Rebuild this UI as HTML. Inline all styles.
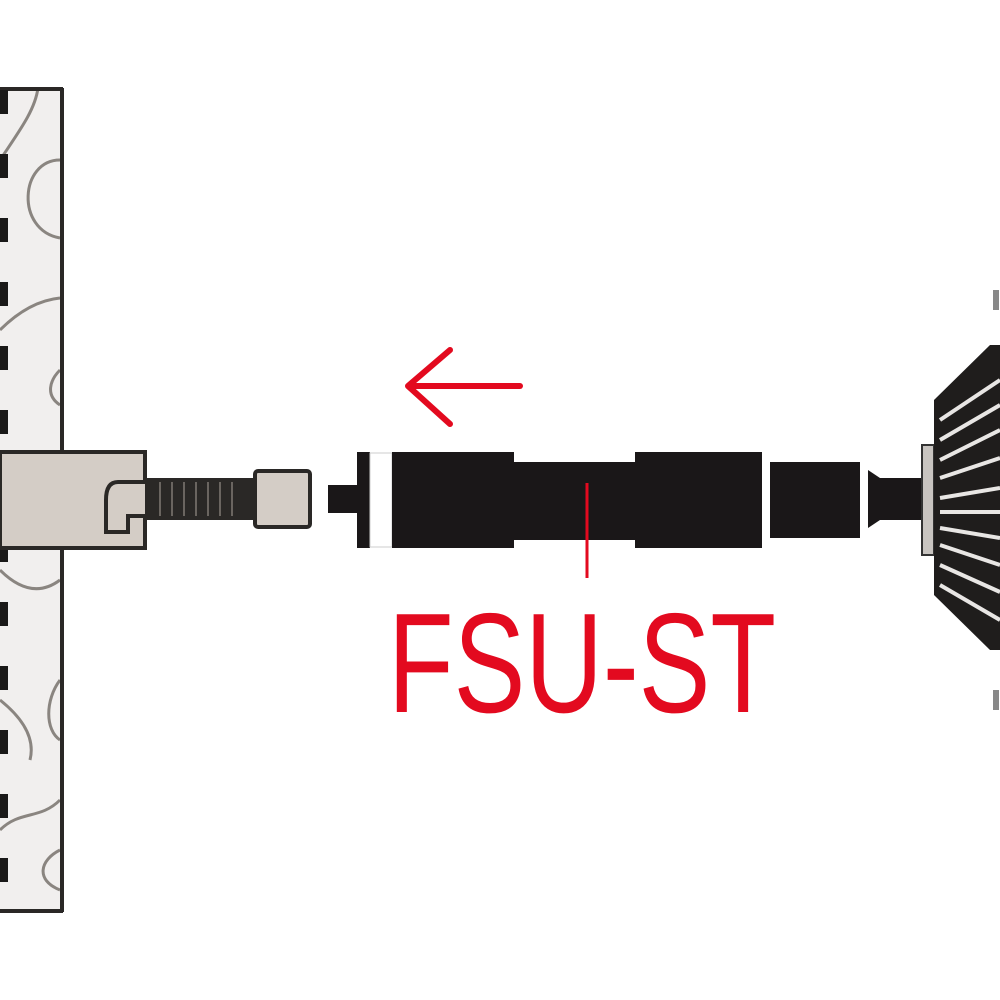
<!DOCTYPE html>
<html><head><meta charset="utf-8"><style>html,body{margin:0;padding:0;background:#fff}svg{display:block}</style></head>
<body>
<svg width="1000" height="1000" viewBox="0 0 1000 1000" xmlns="http://www.w3.org/2000/svg">
<!-- wall -->
<rect x="0" y="88" width="63" height="824" fill="#f1efee"/>
<g fill="none" stroke="#8a8580" stroke-width="3">
<path d="M0 160 C20 130 35 110 38 88"/>
<path d="M60 160 C20 160 15 230 60 238"/>
<path d="M0 330 C20 310 40 300 60 298"/>
<path d="M60 370 C50 380 45 395 60 405"/>
<path d="M0 570 C20 590 40 595 60 580"/>
<path d="M0 700 C25 720 35 740 30 760"/>
<path d="M60 680 C45 700 45 730 60 740"/>
<path d="M0 830 C20 810 40 820 60 800"/>
<path d="M60 850 C40 860 35 880 60 890"/>
</g>
<line x1="0" y1="89" x2="63" y2="89" stroke="#2a2826" stroke-width="4"/>
<line x1="0" y1="911" x2="63" y2="911" stroke="#2a2826" stroke-width="4"/>
<line x1="62" y1="88" x2="62" y2="912" stroke="#2a2826" stroke-width="4"/>
<line x1="4" y1="90" x2="4" y2="912" stroke="#1a1918" stroke-width="8" stroke-dasharray="24 40"/>
<!-- anchor -->
<path d="M0 452 H145 V548 H0 Z" fill="#d4cdc6" stroke="#2a2826" stroke-width="4"/>
<path d="M145 482 H118 Q106 482 106 500 V532 H128 V516 H145" fill="#d4cdc6" stroke="#2a2826" stroke-width="4"/>
<rect x="145" y="478" width="110" height="42" fill="#2a2826"/>
<g stroke="#6a6560" stroke-width="2">
<line x1="160" y1="482" x2="160" y2="516"/><line x1="172" y1="482" x2="172" y2="516"/><line x1="184" y1="482" x2="184" y2="516"/><line x1="196" y1="482" x2="196" y2="516"/><line x1="208" y1="482" x2="208" y2="516"/><line x1="220" y1="482" x2="220" y2="516"/><line x1="232" y1="482" x2="232" y2="516"/>
</g>
<rect x="255" y="471" width="55" height="56" rx="3" fill="#d4cdc6" stroke="#2a2826" stroke-width="4"/>
<!-- tool -->
<rect x="328" y="485" width="32" height="28" fill="#1a1718"/>
<rect x="357" y="452" width="13" height="96" fill="#1a1718"/>
<rect x="370" y="453" width="22" height="94" fill="#fff" stroke="#ccc" stroke-width="1"/>
<rect x="392" y="452" width="122" height="96" fill="#1a1718"/>
<rect x="512" y="462" width="126" height="78" fill="#1a1718"/>
<rect x="635" y="452" width="127" height="96" fill="#1a1718"/>
<rect x="770" y="462" width="90" height="76" fill="#1a1718"/>
<path d="M868 470 L880 478 H922 V520 H880 L868 528 Z" fill="#1a1718"/>
<rect x="922" y="445" width="12" height="110" fill="#c8c4c0" stroke="#333" stroke-width="2"/>
<!-- brush -->
<path d="M934 400 L990 345 H1000 V650 H990 L934 595 Z" fill="#1f1d1c"/>
<g stroke="#e8e6e4" stroke-width="4" fill="none">
<path d="M940 420 L1000 380"/><path d="M940 440 L1000 405"/><path d="M940 460 L1000 430"/><path d="M940 478 L1000 458"/><path d="M940 498 L1000 488"/><path d="M940 512 L1000 512"/><path d="M940 528 L1000 538"/><path d="M940 545 L1000 565"/><path d="M940 565 L1000 592"/><path d="M940 585 L1000 620"/>
</g>
<line x1="996" y1="290" x2="996" y2="310" stroke="#888" stroke-width="6"/>
<line x1="996" y1="690" x2="996" y2="710" stroke="#888" stroke-width="6"/>
<!-- arrow -->
<g stroke="#e30a1f" stroke-width="6" fill="none" stroke-linecap="round" stroke-linejoin="round">
<line x1="410" y1="386" x2="520" y2="386"/>
<polyline points="450,350 408,386 450,424"/>
</g>
<line x1="587" y1="483" x2="587" y2="578" stroke="#e30a1f" stroke-width="3"/>
<text x="388" y="712" font-family="Liberation Sans, sans-serif" font-size="142" fill="#e30a1f" textLength="388" lengthAdjust="spacingAndGlyphs">FSU-ST</text>
</svg>
</body></html>
